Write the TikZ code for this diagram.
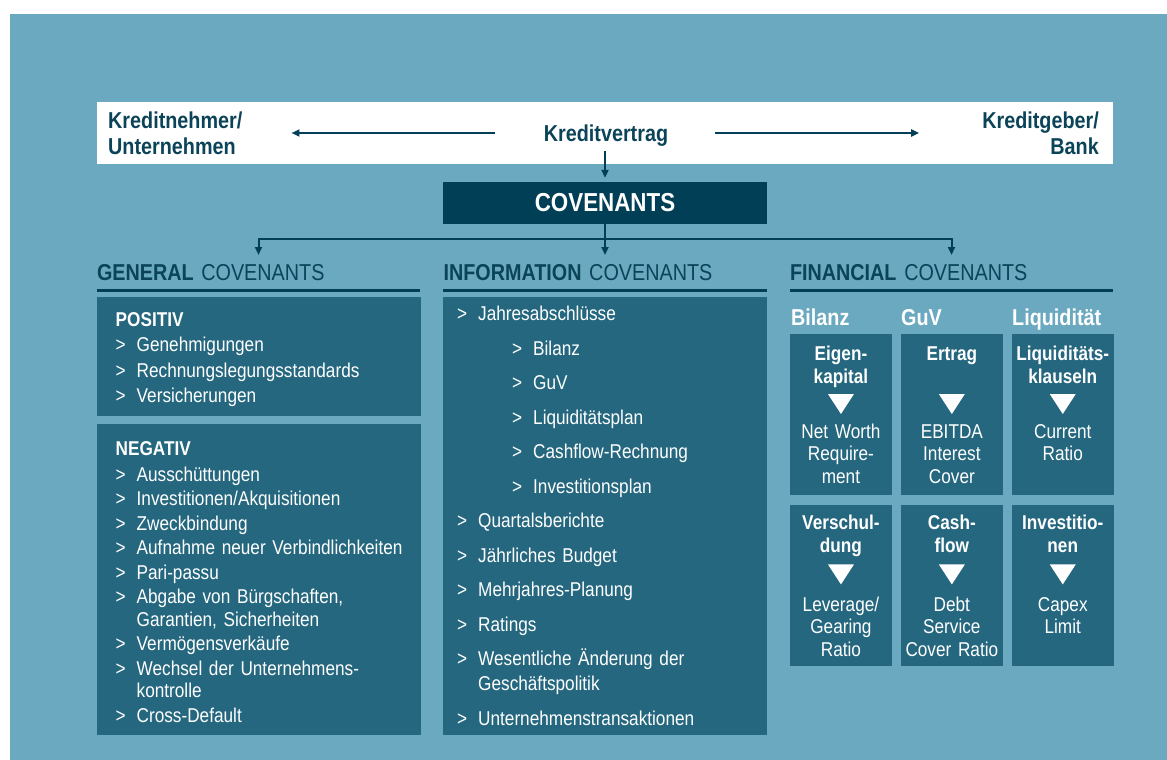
\documentclass[tikz,border=0pt]{standalone}
\usepackage{fontspec}
\setmainfont[FakeStretch=0.86]{Liberation Sans}
\usetikzlibrary{arrows.meta,positioning}

\definecolor{tuerkis}{HTML}{6AA9BF}
\definecolor{blaugrau}{HTML}{24677F}
\definecolor{nachtblau}{HTML}{003F55}
\definecolor{schrift}{HTML}{0B4359}

\newcommand{\punkt}{\makebox[21pt][l]{>}}
\newcommand{\einzug}{\hspace*{21pt}}

\begin{document}
\begin{tikzpicture}[x=1pt, y=-1pt,
    every node/.style={inner sep=0pt, text=white},
    pfeil/.style={draw=nachtblau, line width=2pt, -{Triangle[length=8pt,width=7pt]}},
    linie/.style={draw=nachtblau, line width=3pt},
    bandtext/.style={text=schrift, font=\bfseries\fontsize{23}{25.7}\selectfont},
    kopf/.style={anchor=north, text width=323pt, align=left, text height=23pt, text depth=10pt, text=schrift, font=\fontsize{23}{26}\selectfont},
    feld/.style={anchor=north west, fill=blaugrau, minimum width=324pt},
    liste/.style={anchor=base west, text width=300pt, align=left, font=\fontsize{20}{24.5}\selectfont},
    fkopf/.style={anchor=base west, font=\bfseries\fontsize{23}{26}\selectfont},
    kz/.style={anchor=north west, fill=blaugrau, minimum width=101.5pt, minimum height=161pt},
    kztitel/.style={anchor=base, text width=100pt, align=center, font=\bfseries\fontsize{20}{23}\selectfont},
    kzwert/.style={anchor=base, text width=100pt, align=center, font=\fontsize{20}{22.5}\selectfont}
  ]
  \useasboundingbox (0,0) rectangle (1167,760);
  \fill[tuerkis] (10,14) rectangle (1167,760);

  % Vertragsparteien
  \node[fill=white, minimum width=1016pt, minimum height=62pt] (band) at (605,133) {};
  \node[bandtext, anchor=west, align=left] (nehmer) at (108,133) {Kreditnehmer/\\Unternehmen};
  \node[bandtext, anchor=base] (vertrag) at (606,141.7) {Kreditvertrag};
  \node[bandtext, anchor=east, align=right] (geber) at (1099,133) {Kreditgeber/\\Bank};
  \draw[pfeil, shorten <=49pt, shorten >=49pt] (vertrag.west |- band) -- (nehmer.east |- band);
  \draw[pfeil, shorten <=47pt, shorten >=63pt] (vertrag.east |- band) -- (geber.west |- band);

  \node[fill=nachtblau, minimum width=324pt, minimum height=42pt, font=\bfseries\fontsize{26}{30}\selectfont] (cov) at (605,203) {COVENANTS};
  \draw[pfeil, shorten <=4.5pt, shorten >=4pt] (vertrag.south -| cov.north) -- (cov.north);

  % drei Spalten
  \node[kopf] (gen) at (258.5,257) {\textbf{GENERAL} COVENANTS};
  \node[kopf] (inf) at (605,257) {\textbf{INFORMATION} COVENANTS};
  \node[kopf] (fin) at (951.5,257) {\textbf{FINANCIAL} COVENANTS};
  \foreach \s in {gen,inf,fin}
    \draw[linie] (\s.south west) -- (\s.south east);
  \draw[pfeil, shorten >=2pt] (cov.south) -- (inf.north);
  \draw[pfeil, shorten >=2pt] ([shift={(0,15)}]cov.south) -| (gen.north);
  \draw[pfeil, shorten >=2pt] ([shift={(0,15)}]cov.south) -| (fin.north);

  % General Covenants
  \node[feld, minimum height=119pt] (positiv) at (97,297) {};
  \node[feld, minimum height=311pt] (negativ) at (97,424) {};
  \node[liste, font=\fontsize{20}{25.5}\selectfont] (posliste) at (115.5,326)
    {\textbf{POSITIV}\\ \punkt Genehmigungen\\ \punkt Rechnungslegungsstandards\\ \punkt Versicherungen};
  \node[liste] (negliste) at (115.5,455)
    {\textbf{NEGATIV}\\[1.5pt] \punkt Ausschüttungen\\ \punkt Investitionen/Akquisitionen\\ \punkt Zweckbindung\\
     \punkt Aufnahme neuer Verbindlichkeiten\\ \punkt Pari-passu\\ \punkt Abgabe von Bürgschaften,\\[-2pt]
     \einzug Garantien, Sicherheiten\\ \punkt Vermögensverkäufe\\ \punkt Wechsel der Unternehmens-\\[-2pt]
     \einzug kontrolle\\ \punkt Cross-Default};

  % Information Covenants
  \node[feld, minimum height=438pt] (info) at (443,297) {};
  \node[liste, font=\fontsize{20}{34.5}\selectfont] (infoliste) at (457,320.7)
    {\punkt Jahresabschlüsse\\ \hspace*{55pt}\punkt Bilanz\\ \hspace*{55pt}\punkt GuV\\
     \hspace*{55pt}\punkt Liquiditätsplan\\ \hspace*{55pt}\punkt Cashflow-Rechnung\\ \hspace*{55pt}\punkt Investitionsplan\\
     \punkt Quartalsberichte\\ \punkt Jährliches Budget\\ \punkt Mehrjahres-Planung\\ \punkt Ratings\\
     \punkt Wesentliche Änderung der\\[-9.5pt] \einzug Geschäftspolitik\\ \punkt Unternehmenstransaktionen};

  % Financial Covenants
  \node[fkopf] (bilanz) at (791,325) {Bilanz};
  \node[fkopf] (guv) at (901,325) {GuV};
  \node[fkopf] (liquiditaet) at (1012,325) {Liquidität};

  \node[kz] (eigen) at (790,334) {};
  \node[kz, right=9pt of eigen] (ertrag) {};
  \node[kz, right=9pt of ertrag] (liqui) {};
  \node[kz, below=9pt of eigen] (schuld) {};
  \node[kz, right=9pt of schuld] (cash) {};
  \node[kz, right=9pt of cash] (invest) {};

  \node[kztitel] (eigent) at ([shift={(0,26)}]eigen.north) {Eigen-\\kapital};
  \node[kztitel] (ertragt) at ([shift={(0,26)}]ertrag.north) {Ertrag};
  \node[kztitel] (liquit) at ([shift={(0,26)}]liqui.north) {Liquiditäts-\\klauseln};
  \node[kztitel] (schuldt) at ([shift={(0,25.5)}]schuld.north) {Verschul-\\dung};
  \node[kztitel] (casht) at ([shift={(0,25.5)}]cash.north) {Cash-\\flow};
  \node[kztitel] (investt) at ([shift={(0,25.5)}]invest.north) {Investitio-\\nen};

  \node[kzwert] (eigenw) at ([shift={(0,104)}]eigen.north) {Net Worth\\Require-\\ment};
  \node[kzwert] (ertragw) at ([shift={(0,104)}]ertrag.north) {EBITDA\\Interest\\Cover};
  \node[kzwert] (liquiw) at ([shift={(0,104)}]liqui.north) {Current\\Ratio};
  \node[kzwert] (schuldw) at ([shift={(0,107)}]schuld.north) {Leverage/\\Gearing\\Ratio};
  \node[kzwert] (cashw) at ([shift={(0,107)}]cash.north) {Debt\\Service\\Cover Ratio};
  \node[kzwert] (investw) at ([shift={(0,107)}]invest.north) {Capex\\Limit};

  \foreach \k in {eigen,ertrag,liqui,schuld,cash,invest}
    \fill[white] ([shift={(-13,60)}]\k.north) -- ++(26,0) -- ++(-13,20) -- cycle;
\end{tikzpicture}
\end{document}
